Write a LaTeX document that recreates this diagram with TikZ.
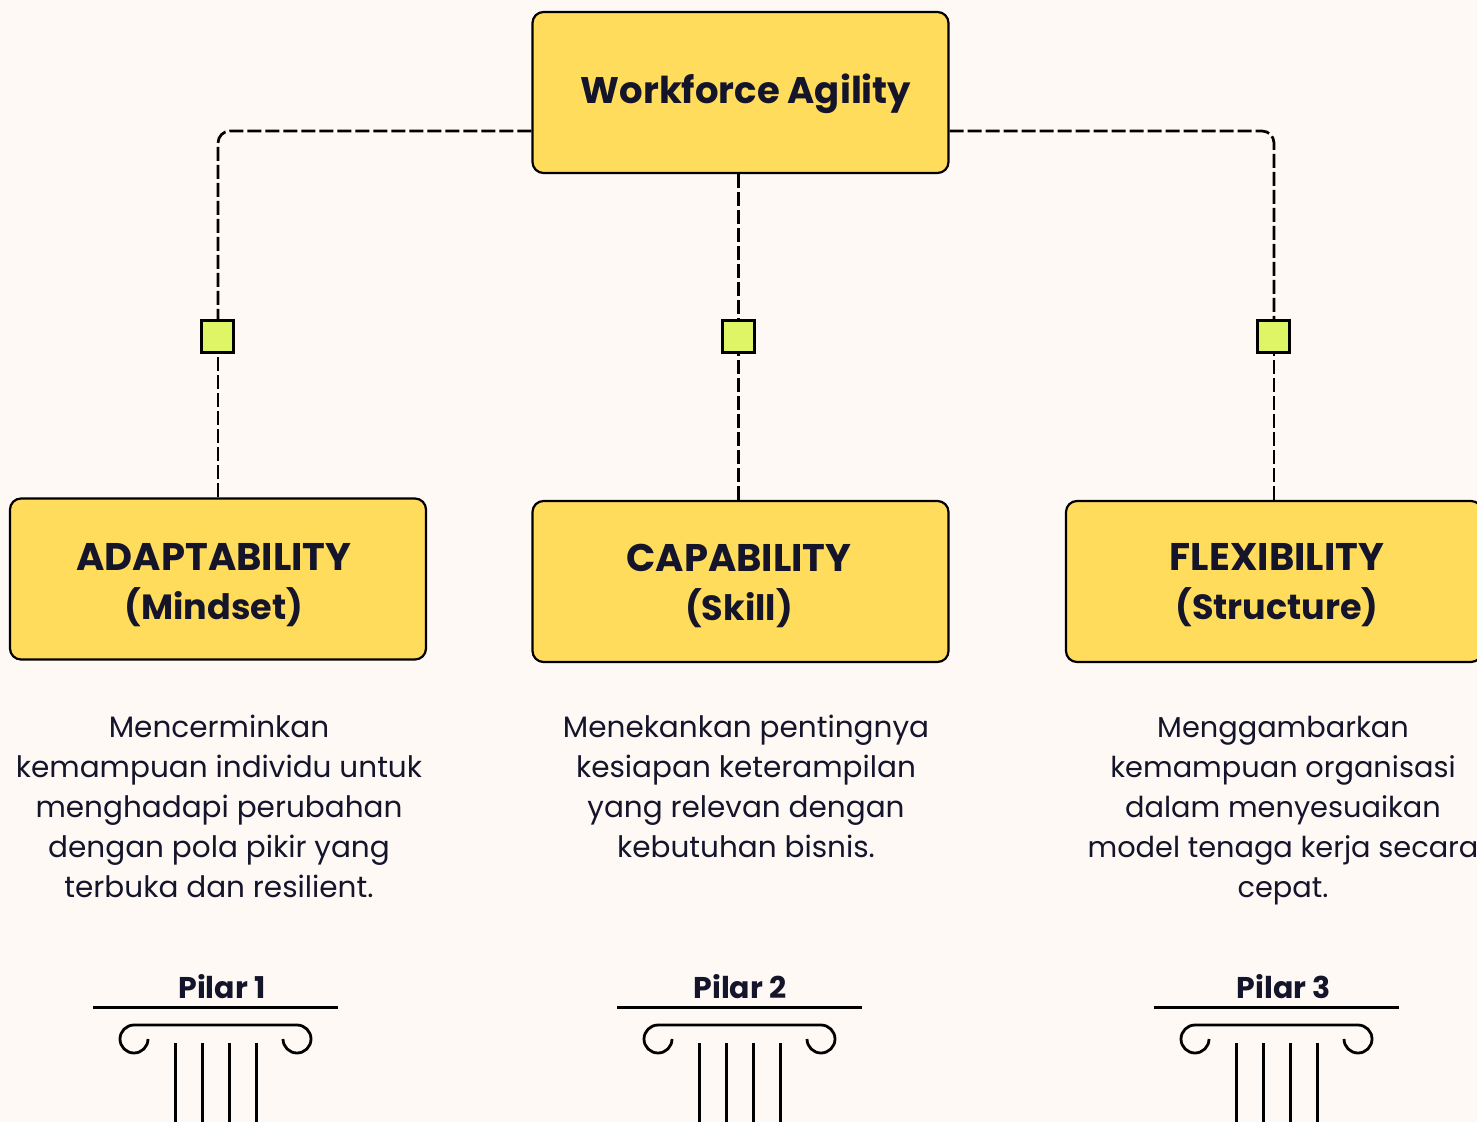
\documentclass[tikz,border=0pt]{standalone}
\usepackage{fontspec}
\setmainfont{Poppins}
\usepackage{xcolor}
\definecolor{paper}{HTML}{FFF9F5}
\definecolor{boxyellow}{HTML}{FFDC5C}
\definecolor{tagyellow}{HTML}{DFF566}
\definecolor{inkdark}{HTML}{14142B}
\newcommand{\sublabel}[1]{{\fontsize{35}{49}\bfseries\selectfont #1}}
\tikzset{
    box/.style={draw=black, fill=boxyellow, line width=2.2pt, rounded corners=11pt, minimum width=416pt, minimum height=161pt},
    tag/.style={draw=black, fill=tagyellow, line width=2.5pt, minimum size=32pt, inner sep=0pt},
    link/.style={draw=black, line width=2.7pt, dash pattern=on 14pt off 4pt, rounded corners=12pt},
    title/.style={text=inkdark, font=\fontsize{38.5}{49}\bfseries\selectfont, align=center, inner sep=0pt},
    body/.style={text=inkdark, font=\fontsize{29.5}{40}\selectfont, align=center, anchor=north, inner sep=0pt},
    pilar/.style={text=inkdark, font=\fontsize{30}{34}\bfseries\selectfont, inner sep=0pt},
    stroke/.style={draw=black, line width=3pt}
}
\begin{document}
\begin{tikzpicture}[x=1pt, y=-1pt]
        \useasboundingbox[fill=paper] (0,0) rectangle (1477,1122);

        \node[box] (top) at (740.5,92.5) {};
        \node[box] (adapt) at (218,579) {};
        \node[box] (capab) at (740.5,581.5) {};
        \node[box] (flex) at (1274,581.5) {};

        \node[title, font=\fontsize{37}{49}\bfseries\selectfont] (toplabel) at (746,94) {Workforce Agility};
        \node[title] (adaptlabel) at (214,585.5) {ADAPTABILITY\\\sublabel{(Mindset)}};
        \node[title] (capablabel) at (739,585.5) {CAPABILITY\\\sublabel{(Skill)}};
        \node[title] (flexlabel) at (1277,585.5) {FLEXIBILITY\\\sublabel{(Structure)}};

        \node[tag] (tagadapt) at (217.5,336.5) {};
        \node[tag] (tagcapab) at (738.5,336.5) {};
        \node[tag] (tagflex) at (1273.5,336.5) {};

        \coordinate (topleft) at (top.west |- 0,131);
        \coordinate (topright) at (top.east |- 0,131);
        \draw[link] (topleft) -| (adapt.north |- tagadapt.north);
        \draw[link] (adapt.north) -- (adapt.north |- tagadapt.south);
        \draw[link] (tagcapab |- top.south) -- (tagcapab.north);
        \draw[link] (tagcapab.south |- capab.north) -- (tagcapab.south);
        \draw[link] (topright) -| (flex.north |- tagflex.north);
        \draw[link] (flex.north) -- (flex.north |- tagflex.south);

        \node[body] (adapttext) at (219,715) {Mencerminkan\\kemampuan individu untuk\\menghadapi perubahan\\dengan pola pikir yang\\terbuka dan resilient.};
        \node[body] (capabtext) at (746,715) {Menekankan pentingnya\\kesiapan keterampilan\\yang relevan dengan\\kebutuhan bisnis.};
        \node[body, font=\fontsize{28.8}{40}\selectfont] (flextext) at (1283,716) {Menggambarkan\\kemampuan organisasi\\dalam menyesuaikan\\model tenaga kerja secara\\cepat.};

        \foreach \dx/\lx/\n in {0/222/1, 524/216/2, 1061/223/3} {
            \begin{scope}[xshift=\dx pt]
                \node[pilar] (pilar\n) at (\lx,987) {Pilar \n};
                \draw[stroke] (93,1007) -- (338,1007);
                \draw[stroke, line width=2.8pt] (148,1039) arc[start angle=0, end angle=270, radius=14] -- (297,1025) arc[start angle=270, end angle=540, radius=14];
                \foreach \fx in {175,202,229,256} {
                    \draw[stroke] (\fx,1043) -- (\fx,1122);
                }
            \end{scope}
        }
    \end{tikzpicture}
\end{document}
